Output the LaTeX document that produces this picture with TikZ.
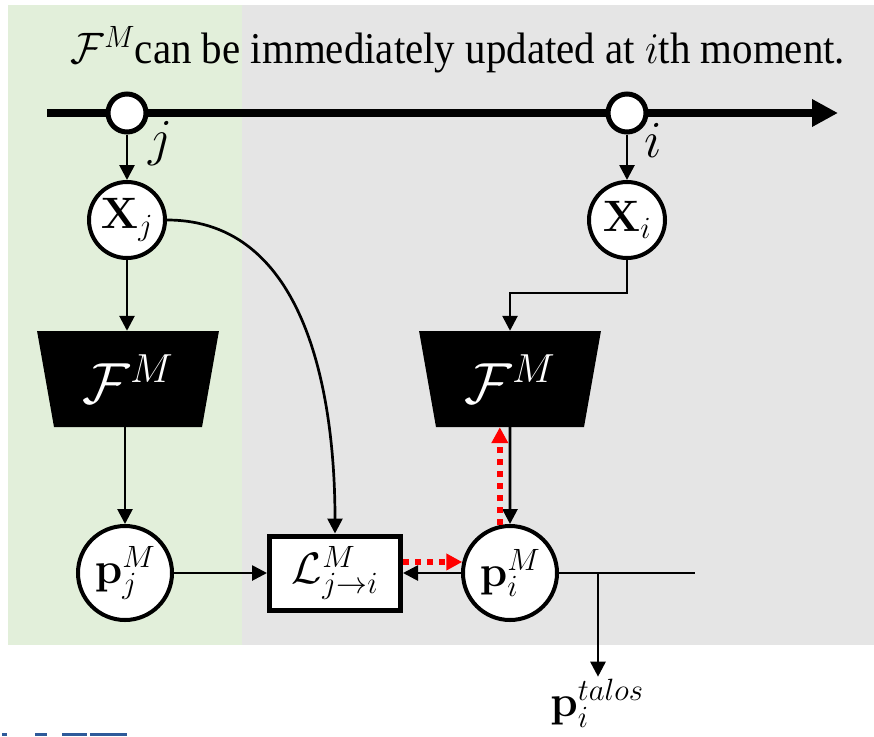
\documentclass[tikz,border=0pt]{standalone}
\usepackage{fix-cm}
\usepackage[no-math]{fontspec}
\newfontfamily\tnr{Liberation Serif}
\usetikzlibrary{arrows.meta,shapes.geometric,calc}
\definecolor{bggreen}{HTML}{E2EFDA}
\definecolor{bggray}{HTML}{E5E5E5}
\definecolor{logoblue}{HTML}{2E5A9A}
\begin{document}
\begin{tikzpicture}[x=1pt,y=-1pt,
  mfont/.style={font=\fontsize{44}{50}\selectfont},
  tick/.style={circle, draw, line width=5pt, fill=white, minimum size=38pt, inner sep=0pt},
  xnode/.style={circle, draw, line width=4pt, fill=white, minimum size=76pt, inner sep=0pt, mfont},
  pnode/.style={circle, draw, line width=4pt, fill=white, minimum size=94pt, inner sep=0pt, mfont},
  lbox/.style={rectangle, draw, line width=5pt, fill=white, minimum width=131pt, minimum height=74pt, inner sep=0pt, mfont},
  trap/.style={trapezium, trapezium angle=78, shape border rotate=180, trapezium stretches=true,
    minimum width=182pt, minimum height=96pt, fill=black, text=white, inner sep=0pt,
    font=\fontsize{58}{64}\selectfont},
  arr/.style={line width=2.7pt, -{Triangle[length=15pt,width=15pt]}},
  redarr/.style={red, line width=6pt, dash pattern=on 6pt off 6pt, -{Triangle[length=16pt,width=16pt]}},
]
\useasboundingbox (0,0) rectangle (874,736);
\fill[bggreen] (8,5) rectangle (242,645);
\fill[bggray] (242,5) rectangle (874,645);
% logo fragment
\fill[logoblue] (2,733) rectangle (7,736);
\fill[logoblue] (35,733) rectangle (47,736);
\fill[logoblue] (62,733) rectangle (87,736);
\fill[logoblue] (90,733) rectangle (127,736);

\node[font=\tnr\fontsize{44}{50}\selectfont, xscale=0.93] (title) at (458,50) {$\mathcal{F}^{M}$can be immediately updated at $i$th moment.};

% timeline
\coordinate (tl0) at (47,113);
\coordinate (tl1) at (838,113);
\draw[line width=8pt, -{Triangle[length=26pt,width=26pt]}] (tl0) -- (tl1);
\node[tick] (tj) at (127,113) {};
\node[tick] (ti) at (627,113) {};
\node[font=\fontsize{52}{58}\selectfont] (lj) at (160,144) {$j$};
\node[font=\fontsize{52}{58}\selectfont] (li) at (653,140) {$i$};

% nodes
\node[xnode] (Xj) at (127,220) {$\mathbf{X}_j$};
\node[xnode] (Xi) at (627,220) {$\mathbf{X}_i$};
\node[trap] (Fj) at (128,379) {$\mathcal{F}^M$};
\node[trap] (Fi) at (510,379) {$\mathcal{F}^M$};
\node[pnode] (pj) at (125,573) {$\mathbf{p}_j^M$};
\node[pnode] (pi) at (510,573) {$\mathbf{p}_i^M$};
\node[lbox] (L) at (335,573) {$\mathcal{L}^M_{j\to i}$};
\node[mfont, inner sep=2pt] (talos) at (597,703) {$\mathbf{p}_i^{talos}$};
\coordinate (br) at (598,573);
\coordinate (pe) at (695,573);

% connectors
\draw[arr] (tj) -- (Xj);
\draw[arr] (ti) -- (Xi);
\draw[arr] (Xj) -- (Fj.north -| Xj);
\draw[arr] (Xi.south) -- ++(0,33) -| (Fi.north);
\draw[arr] (Fj.south -| pj) -- (pj);
\draw[arr] (Fi.south) -- (pi);
\draw[arr] (Xj.east) to[out=0,in=90] (L.north);
\draw[arr] (pj) -- (L);
\draw[arr] (pi) -- (L);
\draw[line width=2.7pt] (pi.east) -- (pe);
\draw[arr] (br) -- (br |- talos.north);
\draw[redarr] (L.east |- pi.167) -- (pi.167);
\draw[redarr] (pi.102) -- (pi.102 |- Fi.south);
\end{tikzpicture}
\end{document}
